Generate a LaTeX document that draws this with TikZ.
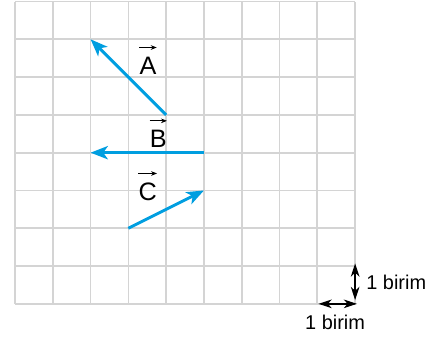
\documentclass[tikz,border=0pt]{standalone}
\usepackage{fontspec}
\setmainfont{Liberation Sans}
\usetikzlibrary{arrows.meta}
\definecolor{vblue}{RGB}{0,158,224}
\begin{document}
\begin{tikzpicture}[x=1cm,y=1cm,
 gridline/.style={draw=black!17, line width=1.3pt},
 vec/.style={draw=vblue, line width=2.2pt, -{Stealth[length=13pt,width=10pt,inset=3.5pt]}},
 lbl/.style={font=\fontsize{19}{21}\selectfont, inner sep=0pt},
 lblarrow/.style={draw=black, line width=0.6pt, -{Stealth[length=4.5pt,width=3.5pt]}},
 unit/.style={draw=black, line width=1pt, {Stealth[length=10pt,width=6.5pt,inset=3pt]}-{Stealth[length=10pt,width=6.5pt,inset=3pt]}},
 ulbl/.style={font=\fontsize{15}{17}\selectfont, inner sep=0pt}]
\useasboundingbox (-0.397,-0.9) rectangle (11.14,8.04);
\draw[gridline] (0,0) grid (9,8);
% vectors
\coordinate (a0) at (4,5); \coordinate (a1) at (2,7);
\coordinate (b0) at (5,4); \coordinate (b1) at (2,4);
\coordinate (c0) at (3,2); \coordinate (c1) at (5,3);
\draw[vec] (a0) -- (a1);
\draw[vec] (b0) -- (b1);
\draw[vec] (c0) -- (c1);
% labels
\node[lbl] (la) at (3.52,6.30) {A};
\node[lbl] (lb) at (3.79,4.36) {B};
\node[lbl] (lc) at (3.51,2.96) {C};
\foreach \n in {la,lb,lc}
  \draw[lblarrow] ([yshift=7pt]\n.north west) -- ([yshift=7pt]\n.north east);
% unit markers
\coordinate (v0) at (9,0.1); \coordinate (v1) at (9,1.07);
\coordinate (h0) at (8.03,0); \coordinate (h1) at (9.05,0);
\draw[unit] (v0) -- (v1);
\draw[unit] (h0) -- (h1);
\node[ulbl, anchor=west] (uv) at (9.29,0.56) {1 birim};
\node[ulbl] (uh) at (8.47,-0.5) {1 birim};
\end{tikzpicture}
\end{document}
